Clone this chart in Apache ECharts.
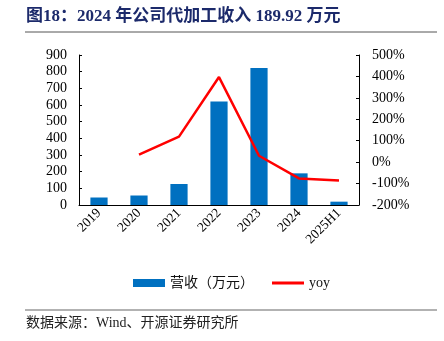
<!DOCTYPE html>
<html><head><meta charset="utf-8">
<script src="https://cdn.jsdelivr.net/npm/echarts@6/dist/echarts.min.js"></script>
<style>html,body{margin:0;padding:0;background:#fff}#c{width:444px;height:341px}</style>
</head><body><div id="c"></div>
<script>
const categories = ['2019','2020','2021','2022','2023','2024','2025H1'];
const revenue = [45, 57, 126, 621, 822, 189.92, 20];
const yoy = [null, 35, 119, 397, 30, -76, -86];
const leftTicks = [0,100,200,300,400,500,600,700,800,900];
const rightTicks = [-200,-100,0,100,200,300,400,500];
const titleText = '图18：2024 年公司代加工收入 189.92 万元';
const sourceText = '数据来源：Wind、开源证券研究所';

const serif = '"Liberation Serif","Times New Roman","Noto Sans CJK SC",serif';
const chart = echarts.init(document.getElementById('c'), null, {renderer:'canvas'});
chart.setOption({
  animation:false,
  graphic:[
    {type:'text', left:26, top:8, style:{text:titleText, font:'bold 17px '+serif, fill:'#1c2a6b'}},
    {type:'line', shape:{x1:25,y1:32,x2:437,y2:32}, style:{stroke:'#555',lineWidth:1}},
    {type:'line', shape:{x1:25,y1:310,x2:437,y2:310}, style:{stroke:'#999',lineWidth:1.5}},
    {type:'text', left:26, top:316, style:{text:sourceText, font:'14px '+serif, fill:'#222'}}
  ],
  legend:{
    top:271, left:128, itemGap:18, itemWidth:32, itemHeight:8,
    textStyle:{fontFamily:serif, fontSize:14, color:'#111'},
    data:[
      {name:'营收（万元）', icon:'rect'},
      {name:'yoy', icon:'path://M0,0 L32,0 L32,3 L0,3 Z', itemStyle:{color:'#FF0000'}}
    ]
  },
  grid:{left:79, right:85, top:55, bottom:136},
  xAxis:{
    type:'category', data:categories,
    axisLine:{lineStyle:{color:'#000'}},
    axisTick:{inside:true, length:4, lineStyle:{color:'#000'}},
    axisLabel:{rotate:45, fontFamily:serif, fontSize:13.5, color:'#000', margin:6, interval:0}
  },
  yAxis:[
    {type:'value', min:0, max:900, interval:100,
     axisLine:{show:true, lineStyle:{color:'#000'}},
     axisTick:{show:true, inside:true, length:3, lineStyle:{color:'#000'}},
     splitLine:{show:false},
     axisLabel:{fontFamily:serif, fontSize:14, color:'#000', margin:12}},
    {type:'value', min:-200, max:500, interval:100,
     axisLine:{show:true, lineStyle:{color:'#000'}},
     axisTick:{show:true, inside:true, length:3, lineStyle:{color:'#000'}},
     splitLine:{show:false},
     axisLabel:{fontFamily:serif, fontSize:14, color:'#000', margin:13, formatter:'{value}%'}}
  ],
  series:[
    {name:'营收（万元）', type:'bar', data:revenue, barWidth:'43%', itemStyle:{color:'#0070C0'}},
    {name:'yoy', type:'line', yAxisIndex:1, data:yoy, symbol:'none', lineStyle:{color:'#FF0000', width:2.5}, itemStyle:{color:'#FF0000'}}
  ]
});
</script></body></html>
